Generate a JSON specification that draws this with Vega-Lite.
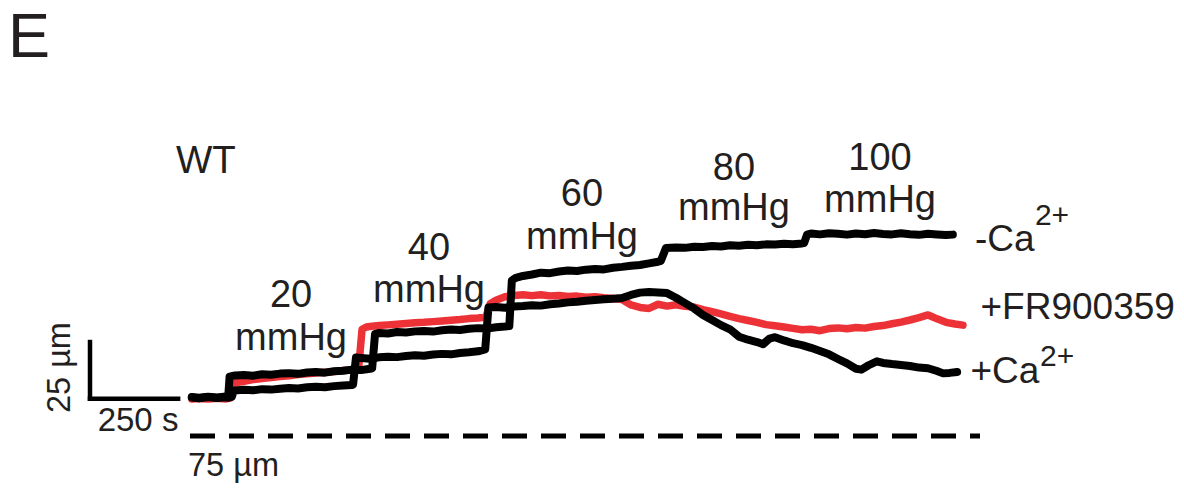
{
  "$schema": "https://vega.github.io/schema/vega-lite/v6.json",
  "width": 1184,
  "height": 488,
  "padding": 0,
  "autosize": {"type": "fit", "contains": "padding"},
  "background": "white",
  "config": {"view": {"stroke": null}, "text": {"font": "Liberation Sans", "color": "#231f20"}},
  "datasets": {
    "minusCa": [
      {"t":5,"d":91.6},{"t":25,"d":91.3},{"t":50,"d":91.8},{"t":75,"d":91.4},{"t":100,"d":91.7},{"t":106,"d":91.5},{"t":110,"d":100.6},{"t":125,"d":101.1},{"t":150,"d":101.3},{"t":175,"d":101.0},{"t":200,"d":101.6},{"t":225,"d":101.4},{"t":250,"d":101.9},{"t":275,"d":102.1},{"t":300,"d":101.8},{"t":325,"d":102.4},{"t":350,"d":102.6},{"t":375,"d":102.3},{"t":400,"d":102.9},{"t":425,"d":103.1},{"t":450,"d":103.6},{"t":475,"d":103.4},{"t":500,"d":104.0},{"t":506,"d":104.2},{"t":514,"d":119.0},{"t":525,"d":119.4},{"t":550,"d":119.2},{"t":575,"d":119.8},{"t":600,"d":119.6},{"t":625,"d":120.1},{"t":650,"d":120.3},{"t":675,"d":120.0},{"t":700,"d":120.6},{"t":725,"d":120.9},{"t":750,"d":120.7},{"t":775,"d":121.2},{"t":800,"d":121.5},{"t":825,"d":121.3},{"t":850,"d":121.9},{"t":875,"d":122.2},{"t":887,"d":122.4},{"t":894,"d":142.0},{"t":905,"d":143.2},{"t":925,"d":144.0},{"t":950,"d":144.6},{"t":975,"d":145.4},{"t":1000,"d":145.2},{"t":1025,"d":145.9},{"t":1050,"d":146.3},{"t":1075,"d":146.1},{"t":1100,"d":146.7},{"t":1125,"d":147.0},{"t":1150,"d":146.8},{"t":1175,"d":147.5},{"t":1200,"d":147.9},{"t":1225,"d":148.4},{"t":1250,"d":148.7},{"t":1275,"d":149.4},{"t":1300,"d":150.1},{"t":1308,"d":150.5},{"t":1322,"d":156.0},{"t":1350,"d":156.3},{"t":1375,"d":156.1},{"t":1400,"d":156.6},{"t":1425,"d":156.5},{"t":1450,"d":156.9},{"t":1475,"d":156.7},{"t":1500,"d":157.2},{"t":1525,"d":157.0},{"t":1550,"d":157.4},{"t":1575,"d":157.2},{"t":1600,"d":157.6},{"t":1625,"d":157.5},{"t":1650,"d":157.9},{"t":1675,"d":157.7},{"t":1700,"d":158.0},{"t":1706,"d":158.2},{"t":1714,"d":161.8},{"t":1725,"d":162.3},{"t":1750,"d":161.9},{"t":1775,"d":162.4},{"t":1800,"d":162.2},{"t":1825,"d":161.8},{"t":1850,"d":162.3},{"t":1875,"d":162.0},{"t":1900,"d":162.5},{"t":1925,"d":162.1},{"t":1950,"d":161.9},{"t":1975,"d":162.4},{"t":2000,"d":162.0},{"t":2025,"d":161.7},{"t":2050,"d":162.2},{"t":2075,"d":161.9},{"t":2100,"d":161.6},{"t":2119,"d":161.8}
    ],
    "plusCa": [
      {"t":5,"d":91.8},{"t":25,"d":91.5},{"t":50,"d":91.9},{"t":75,"d":91.6},{"t":100,"d":92.0},{"t":116,"d":91.8},{"t":122,"d":94.6},{"t":150,"d":94.9},{"t":175,"d":94.7},{"t":200,"d":95.2},{"t":225,"d":95.0},{"t":250,"d":95.4},{"t":275,"d":95.7},{"t":300,"d":95.5},{"t":325,"d":96.0},{"t":350,"d":96.2},{"t":375,"d":96.0},{"t":400,"d":96.5},{"t":425,"d":96.8},{"t":450,"d":97.0},{"t":453,"d":97.2},{"t":461,"d":108.8},{"t":475,"d":108.6},{"t":500,"d":108.3},{"t":525,"d":108.9},{"t":550,"d":109.2},{"t":575,"d":109.0},{"t":600,"d":109.5},{"t":625,"d":109.8},{"t":650,"d":109.6},{"t":675,"d":110.1},{"t":700,"d":110.4},{"t":725,"d":110.2},{"t":750,"d":110.8},{"t":775,"d":111.1},{"t":800,"d":111.5},{"t":820,"d":112.3},{"t":829,"d":130.4},{"t":850,"d":130.6},{"t":875,"d":130.3},{"t":900,"d":130.8},{"t":925,"d":131.0},{"t":950,"d":131.4},{"t":975,"d":131.2},{"t":1000,"d":131.8},{"t":1025,"d":132.1},{"t":1050,"d":132.6},{"t":1075,"d":132.9},{"t":1100,"d":133.3},{"t":1125,"d":133.6},{"t":1150,"d":133.9},{"t":1175,"d":134.2},{"t":1200,"d":134.5},{"t":1225,"d":135.8},{"t":1250,"d":136.8},{"t":1275,"d":137.1},{"t":1300,"d":136.9},{"t":1325,"d":136.6},{"t":1350,"d":134.6},{"t":1375,"d":132.3},{"t":1400,"d":130.0},{"t":1425,"d":127.2},{"t":1450,"d":125.0},{"t":1475,"d":122.8},{"t":1500,"d":121.0},{"t":1525,"d":117.8},{"t":1550,"d":116.5},{"t":1575,"d":115.5},{"t":1592,"d":114.6},{"t":1610,"d":117.0},{"t":1625,"d":117.6},{"t":1650,"d":116.2},{"t":1675,"d":115.0},{"t":1700,"d":114.2},{"t":1725,"d":113.0},{"t":1750,"d":111.6},{"t":1775,"d":110.2},{"t":1800,"d":108.2},{"t":1825,"d":106.3},{"t":1850,"d":104.0},{"t":1865,"d":103.6},{"t":1885,"d":105.5},{"t":1908,"d":107.2},{"t":1925,"d":106.5},{"t":1950,"d":106.0},{"t":1975,"d":105.6},{"t":2000,"d":105.2},{"t":2025,"d":104.5},{"t":2050,"d":104.2},{"t":2075,"d":103.0},{"t":2092,"d":102.0},{"t":2110,"d":102.2},{"t":2131,"d":102.6}
    ],
    "fr": [
      {"t":5,"d":91.0},{"t":25,"d":91.2},{"t":50,"d":90.9},{"t":75,"d":91.3},{"t":100,"d":91.0},{"t":112,"d":91.4},{"t":118,"d":97.5},{"t":125,"d":97.9},{"t":150,"d":98.6},{"t":175,"d":99.3},{"t":200,"d":99.8},{"t":225,"d":100.2},{"t":250,"d":100.6},{"t":275,"d":101.0},{"t":300,"d":101.5},{"t":325,"d":101.8},{"t":350,"d":102.2},{"t":375,"d":102.5},{"t":400,"d":102.8},{"t":425,"d":103.2},{"t":450,"d":103.5},{"t":468,"d":103.6},{"t":478,"d":121.0},{"t":490,"d":122.0},{"t":500,"d":122.2},{"t":525,"d":122.6},{"t":550,"d":122.9},{"t":575,"d":123.2},{"t":600,"d":123.5},{"t":625,"d":123.8},{"t":650,"d":124.0},{"t":675,"d":124.3},{"t":700,"d":124.6},{"t":725,"d":124.9},{"t":750,"d":125.2},{"t":775,"d":125.6},{"t":800,"d":125.9},{"t":822,"d":126.3},{"t":834,"d":132.0},{"t":850,"d":133.5},{"t":875,"d":135.0},{"t":900,"d":135.6},{"t":925,"d":135.9},{"t":950,"d":135.5},{"t":975,"d":135.9},{"t":1000,"d":135.4},{"t":1025,"d":135.6},{"t":1050,"d":135.1},{"t":1075,"d":135.3},{"t":1100,"d":134.8},{"t":1125,"d":135.0},{"t":1150,"d":134.6},{"t":1175,"d":134.3},{"t":1200,"d":133.8},{"t":1225,"d":131.5},{"t":1250,"d":130.4},{"t":1275,"d":130.0},{"t":1300,"d":131.8},{"t":1325,"d":131.0},{"t":1350,"d":131.6},{"t":1375,"d":130.9},{"t":1400,"d":130.6},{"t":1425,"d":129.5},{"t":1450,"d":128.6},{"t":1475,"d":127.6},{"t":1500,"d":126.6},{"t":1525,"d":125.6},{"t":1550,"d":124.8},{"t":1575,"d":124.0},{"t":1600,"d":123.0},{"t":1625,"d":122.5},{"t":1650,"d":122.0},{"t":1675,"d":121.4},{"t":1700,"d":120.8},{"t":1725,"d":121.0},{"t":1750,"d":120.4},{"t":1775,"d":121.3},{"t":1800,"d":121.6},{"t":1825,"d":121.2},{"t":1850,"d":121.8},{"t":1875,"d":121.5},{"t":1900,"d":122.2},{"t":1925,"d":122.6},{"t":1950,"d":123.4},{"t":1975,"d":124.1},{"t":2000,"d":125.0},{"t":2025,"d":126.0},{"t":2050,"d":127.2},{"t":2060,"d":126.5},{"t":2075,"d":125.5},{"t":2100,"d":124.0},{"t":2125,"d":123.3},{"t":2147,"d":122.8}
    ]
  },
  "encoding": {
    "x": {"field": "t", "type": "quantitative", "scale": {"domain": [-527.78, 2761.11], "nice": false, "zero": false}, "axis": null},
    "y": {"field": "d", "type": "quantitative", "scale": {"domain": [52.59, 262.93], "nice": false, "zero": false}, "axis": null}
  },
  "layer": [
    {
      "data": {"values": [{"t": 0, "t2": 2194.4, "d": 75}]},
      "mark": {"type": "rule", "color": "#000000", "strokeWidth": 5, "strokeDash": [25, 14]},
      "encoding": {"x2": {"field": "t2"}}
    },
    {
      "data": {"values": [{"t": -277.8, "t2": -277.8, "d": 91.08, "d2": 115.5}, {"t": -277.8, "t2": -33, "d": 91.08, "d2": 91.08}]},
      "mark": {"type": "rule", "color": "#000000", "strokeWidth": 4.5, "strokeCap": "square"},
      "encoding": {"x2": {"field": "t2"}, "y2": {"field": "d2"}}
    },
    {
      "data": {"name": "fr"},
      "mark": {"type": "line", "color": "#ed3237", "strokeWidth": 7.5, "strokeJoin": "round", "strokeCap": "round"}
    },
    {
      "data": {"name": "plusCa"},
      "mark": {"type": "line", "color": "#000000", "strokeWidth": 8, "strokeJoin": "round", "strokeCap": "round"}
    },
    {
      "data": {"name": "minusCa"},
      "mark": {"type": "line", "color": "#000000", "strokeWidth": 8, "strokeJoin": "round", "strokeCap": "round"}
    },
    {
      "data": {"values": [{"t": -505.6, "d": 238.3, "label": "E"}]},
      "mark": {"type": "text", "fontSize": 63, "align": "left", "baseline": "alphabetic"},
      "encoding": {"text": {"field": "label"}}
    },
    {
      "data": {"values": [{"t": -38.9, "d": 188.4, "label": "WT"}]},
      "mark": {"type": "text", "fontSize": 38.5, "align": "left", "baseline": "alphabetic"},
      "encoding": {"text": {"field": "label"}}
    },
    {
      "data": {"values": [
        {"t": 280.6, "d": 130.6, "label": "20"}, {"t": 280.6, "d": 112.1, "label": "mmHg"},
        {"t": 663.9, "d": 150.9, "label": "40"}, {"t": 663.9, "d": 132.8, "label": "mmHg"},
        {"t": 1088.9, "d": 174.1, "label": "60"}, {"t": 1088.9, "d": 155.6, "label": "mmHg"},
        {"t": 1511.1, "d": 185.3, "label": "80"}, {"t": 1511.1, "d": 168.1, "label": "mmHg"},
        {"t": 1916.7, "d": 189.6, "label": "100"}, {"t": 1916.7, "d": 171.5, "label": "mmHg"}
      ]},
      "mark": {"type": "text", "fontSize": 38, "align": "center", "baseline": "alphabetic"},
      "encoding": {"text": {"field": "label"}}
    },
    {
      "data": {"values": [
        {"t": 2180.6, "d": 154.7, "label": "-Ca"},
        {"t": 2195.8, "d": 125.4, "label": "+FR900359"},
        {"t": 2168, "d": 97.8, "label": "+Ca"}
      ]},
      "mark": {"type": "text", "fontSize": 37, "align": "left", "baseline": "alphabetic"},
      "encoding": {"text": {"field": "label"}}
    },
    {
      "data": {"values": [
        {"t": 2347, "d": 165.9, "label": "2+"},
        {"t": 2361, "d": 105.2, "label": "2+"}
      ]},
      "mark": {"type": "text", "fontSize": 30, "align": "left", "baseline": "alphabetic"},
      "encoding": {"text": {"field": "label"}}
    },
    {
      "data": {"values": [{"t": -144.4, "d": 77.2, "label": "250 s"}]},
      "mark": {"type": "text", "fontSize": 33, "align": "center", "baseline": "alphabetic"},
      "encoding": {"text": {"field": "label"}}
    },
    {
      "data": {"values": [{"t": -333.3, "d": 104.5, "label": "25 µm"}]},
      "mark": {"type": "text", "fontSize": 32.5, "align": "center", "baseline": "alphabetic", "angle": 270},
      "encoding": {"text": {"field": "label"}}
    },
    {
      "data": {"values": [{"t": -5.6, "d": 57.8, "label": "75 µm"}]},
      "mark": {"type": "text", "fontSize": 32.5, "align": "left", "baseline": "alphabetic"},
      "encoding": {"text": {"field": "label"}}
    }
  ]
}
